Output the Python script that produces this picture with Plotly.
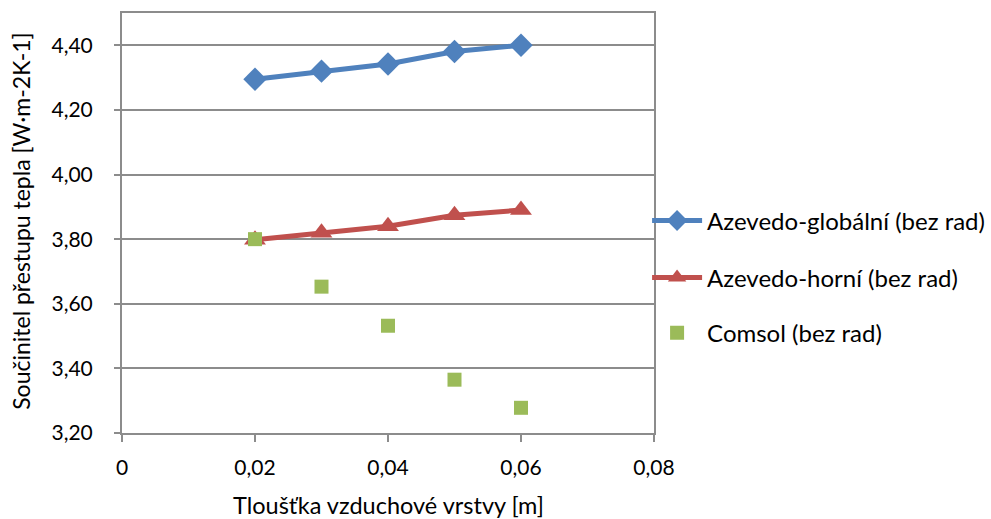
import plotly.graph_objects as go

x_vals = [0.02, 0.03, 0.04, 0.05, 0.06]
azevedo_globalni = [4.295, 4.320, 4.342, 4.381, 4.400]
azevedo_horni = [3.798, 3.820, 3.840, 3.874, 3.890]
comsol = [3.800, 3.653, 3.532, 3.365, 3.278]

x_tick_vals = [0, 0.02, 0.04, 0.06, 0.08]
x_tick_labels = ["0", "0,02", "0,04", "0,06", "0,08"]
y_tick_vals = [3.2, 3.4, 3.6, 3.8, 4.0, 4.2, 4.4]
y_tick_labels = ["3,20", "3,40", "3,60", "3,80", "4,00", "4,20", "4,40"]

names = ["Azevedo-globální (bez rad)", "Azevedo-horní (bez rad)", "Comsol (bez rad)"]
x_title = "Tloušťka vzduchové vrstvy [m]"
y_title = "Součinitel přestupu tepla [W·m-2K-1]"

FONT = "Lato"
grid = "#8c8c8c"

fig = go.Figure()
fig.add_trace(go.Scatter(x=x_vals, y=azevedo_globalni, mode="lines+markers", name=names[0],
                         line=dict(color="#4F81BD", width=5),
                         marker=dict(symbol="diamond", size=18, color="#4F81BD"),
                         legend="legend"))
fig.add_trace(go.Scatter(x=x_vals, y=azevedo_horni, mode="lines+markers", name=names[1],
                         line=dict(color="#C0504D", width=5),
                         marker=dict(symbol="triangle-up", size=19, color="#C0504D"),
                         legend="legend2"))
fig.add_trace(go.Scatter(x=x_vals, y=comsol, mode="markers", name=names[2],
                         marker=dict(symbol="square", size=14, color="#9BBB59"),
                         legend="legend3"))

leg_common = dict(xanchor="left", yanchor="middle", bgcolor="rgba(0,0,0,0)",
                  itemwidth=50,
                  font=dict(family=FONT, size=24, color="#000000"))
fig.update_layout(
    width=991, height=519,
    margin=dict(l=122, r=337, t=13, b=86, autoexpand=False),
    paper_bgcolor="white", plot_bgcolor="white",
    separators=", ",
    font=dict(family=FONT, size=21, color="#000000"),
    showlegend=True,
    legend=dict(x=0.987, y=0.505, **leg_common),
    legend2=dict(x=0.987, y=0.369, **leg_common),
    legend3=dict(x=0.987, y=0.238, **leg_common),
    xaxis=dict(range=[0, 0.08], tickvals=x_tick_vals, ticktext=x_tick_labels,
               showgrid=False, zeroline=False, showline=True, linecolor=grid, linewidth=2,
               mirror=True, ticks="outside", ticklen=7, tickcolor=grid, tickwidth=2,
               ticklabelstandoff=8, automargin=False,
               tickfont=dict(family=FONT, size=21)),
    yaxis=dict(range=[3.2, 4.5], tickvals=y_tick_vals, ticktext=y_tick_labels,
               showgrid=True, gridcolor=grid, gridwidth=2, zeroline=False,
               showline=True, linecolor=grid, linewidth=2, mirror=True,
               ticks="outside", ticklen=6, tickcolor=grid, tickwidth=2,
               ticklabelstandoff=17, automargin=False,
               tickfont=dict(family=FONT, size=21)),
    annotations=[
        dict(text=x_title, xref="paper", yref="paper", x=0.5, y=-0.172,
             xanchor="center", yanchor="middle", showarrow=False,
             font=dict(family=FONT, size=23.5, color="#000000")),
        dict(text=y_title, xref="paper", yref="paper", x=-0.19, y=0.505,
             xanchor="center", yanchor="middle", textangle=-90, showarrow=False,
             font=dict(family=FONT, size=23, color="#000000")),
    ],
)

fig.write_html("out.html", config={"displayModeBar": False},
               post_script="document.body.style.margin='0';document.body.style.overflow='hidden';")
